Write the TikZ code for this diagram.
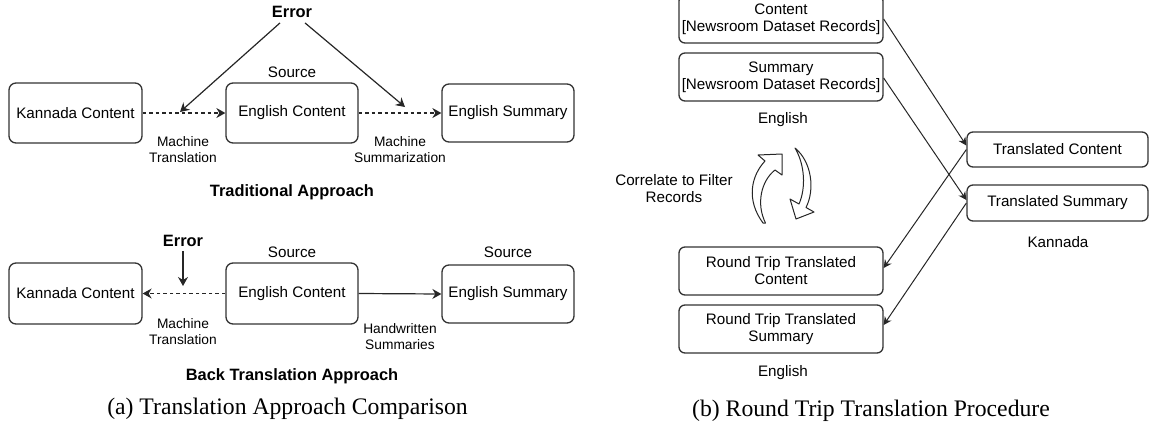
\documentclass[tikz,border=0pt]{standalone}
\usepackage{fontspec}
\setmainfont{Liberation Sans}
\newfontfamily\capfont{Liberation Serif}
\usetikzlibrary{arrows.meta,calc}

\begin{document}
\begin{tikzpicture}[x=1pt,y=-1pt,
  box/.style={draw=black!80, line width=1.3pt, rounded corners=7pt, align=center,
    inner sep=0pt, font=\fontsize{15.2}{17}\selectfont},
  rbox/.style={box, rounded corners=6pt, minimum width=204pt, minimum height=48pt},
  kbox/.style={box, rounded corners=6pt, minimum width=181pt},
  lbl/.style={align=center, inner sep=0pt, font=\fontsize{15.2}{17}\selectfont},
  sm/.style={align=center, inner sep=0pt, font=\fontsize{13.75}{16}\selectfont},
  hd/.style={inner sep=0pt, font=\bfseries\fontsize{16.4}{19}\selectfont},
  captxt/.style={inner sep=0pt, font=\capfont\fontsize{23.7}{28}\selectfont},
  conn/.style={draw=black!85, line width=1.2pt, -{Stealth[length=9pt,width=10pt,inset=3pt]}},
  thinarr/.style={draw=black!85, line width=1pt, -{Stealth[length=8pt,width=8pt,inset=2.5pt]}},
  dsh/.style={conn, dash pattern=on 3.5pt off 3pt},
  curl/.style={draw=black!85, line width=1pt, fill=white, line join=round}
]
\useasboundingbox (0,0) rectangle (1151,429);
\clip (0,0) rectangle (1151,429);

% ---------------- (a) traditional approach ----------------
\node[box, minimum width=133pt, minimum height=60pt] (k1) at (75.5,113) {Kannada Content};
\node[box, minimum width=132pt, minimum height=60pt] (e1) at (292,113) {English Content};
\node[box, minimum width=132pt, minimum height=58pt] (s1) at (508,113) {English Summary};
\node[lbl] (src1) at (292,72) {Source};
\node[hd] (err1) at (292,12) {Error};
\coordinate (m1) at (180,112);
\coordinate (m2) at (405,107);
\draw[dsh] (k1.east) -- (e1.west);
\draw[dsh] (e1.east) -- (s1.west);
\draw[conn] ($(err1.south)+(-12,5)$) -- (m1);
\draw[conn] ($(err1.south)+(13,5)$) -- (m2);
\node[sm] (mt1) at (183,150) {Machine\\Translation};
\node[sm] (ms1) at (400,150) {Machine\\Summarization};
\node[hd] (trad) at (292,192) {Traditional Approach};

% ---------------- (a) back translation approach ----------------
\node[box, minimum width=133pt, minimum height=61pt] (k2) at (75.5,293.5) {Kannada Content};
\node[box, minimum width=132pt, minimum height=61pt] (e2) at (292,293.5) {English Content};
\node[box, minimum width=132pt, minimum height=58pt] (s2) at (508,294) {English Summary};
\node[lbl] (src2) at (292,252) {Source};
\node[lbl] (src3) at (508,252) {Source};
\node[hd] (err2) at (183,241) {Error};
\coordinate (m3) at (183,286);
\draw[conn, shorten <=4pt] (err2.south) -- (m3);
\draw[dsh] (e2.west) -- (k2.east);
\draw[conn] (e2.east) -- (s2.west);
\node[sm] (mt2) at (183,331.5) {Machine\\Translation};
\node[sm] (hw) at (400,336.5) {Handwritten\\Summaries};
\node[hd] (back) at (292,376) {Back Translation Approach};
\node[captxt] (capa) at (287.5,409) {(a) Translation Approach Comparison};

% ---------------- (b) round trip translation ----------------
\node[rbox] (c) at (781,19) {Content\\{[Newsroom Dataset Records]}};
\node[rbox] (sm) at (781,77) {Summary\\{[Newsroom Dataset Records]}};
\node[lbl] (en1) at (783,120) {English};
\node[kbox, minimum height=35pt] (tc) at (1057.5,149.5) {Translated Content};
\node[kbox, minimum height=36pt] (ts) at (1057.5,203) {Translated Summary};
\node[lbl] (kn) at (1058,242) {Kannada};
\node[lbl] (corr) at (674,188.5) {Correlate to Filter\\Records};
\node[rbox] (rc) at (781,271) {Round Trip Translated\\Content};
\node[rbox] (rs) at (781,329) {Round Trip Translated\\Summary};
\node[lbl] (en2) at (783,373) {English};
\node[captxt] (capb) at (871,411) {(b) Round Trip Translation Procedure};

\draw[thinarr] (c.east) -- ([yshift=4pt]tc.west);
\draw[thinarr] ([yshift=-1pt]sm.east) -- ([yshift=3pt]ts.west);
\draw[thinarr] (tc.west) -- ([yshift=3pt]rc.east);
\draw[thinarr] (ts.west) -- ([yshift=4pt]rs.east);

% hollow curved arrows of the correlation loop
\path[curl] (763,223) .. controls (746,200) and (751,176) .. (765,161)
  -- (758,155) -- (782,154) -- (782,175) -- (775,170)
  .. controls (761,181) and (756,204) .. (765.5,223) -- cycle;
\path[curl] (795,148) .. controls (812,162) and (815,190) .. (806,207.5)
  -- (814,212) -- (796,219) -- (790,199) -- (799,204)
  .. controls (806,188) and (805,165) .. (795,148) -- cycle;
\end{tikzpicture}
\end{document}
